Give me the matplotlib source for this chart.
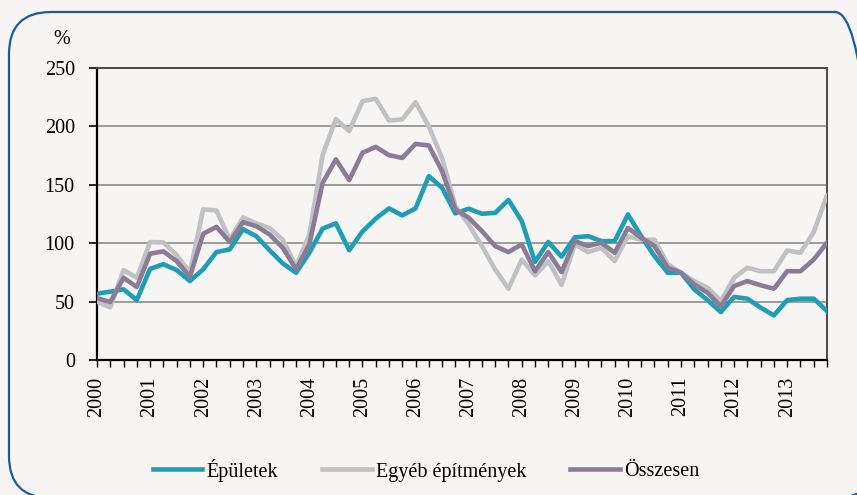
import numpy as np
import matplotlib
matplotlib.use("Agg")
import matplotlib.pyplot as plt
from matplotlib.patches import FancyBboxPatch

years = list(range(2000, 2014))

epuletek = [56.8, 58.5, 60.5, 51.3, 78, 82, 77, 67.6, 77.6, 92.4, 94.7, 112,
            106, 94, 82.7, 74.7, 91.8, 112.5, 117, 94, 110, 121, 129.8, 123.8,
            129.8, 157.4, 147.4, 125.5, 129.5, 125.2, 126, 137, 119, 84, 101, 88.5,
            105, 106, 101.8, 101.8, 124.6, 106, 89, 74.7, 74.7, 60.5, 51.3, 41,
            54, 52.5, 44.8, 38.2, 51.3, 52.5, 52.5, 42]

egyeb = [50, 45, 77, 70.4, 101, 100.7, 90, 75, 129, 128, 103, 122,
         117, 113, 103, 80, 107.5, 175.5, 206.3, 196, 221.6, 223.6, 205, 206,
         220.7, 200, 173, 131.8, 116, 97.5, 77.6, 61, 86, 72.4, 84.7, 64.3,
         99, 92.4, 96, 84.7, 106, 103, 103, 81.9, 74.7, 67.6, 61.9, 50.5,
         70.4, 79, 76, 76, 93.8, 91.8, 109.5, 141]

osszesen = [53, 49.6, 70.4, 62.5, 91, 93, 84.7, 71.3, 108, 114, 101, 118,
            114.6, 107.5, 96, 77.6, 99, 151.7, 171.7, 154, 177.4, 182.5, 175.4, 173,
            185, 183.7, 161.7, 129, 121.8, 110.4, 97.5, 92.4, 99, 76, 92.4, 75.3,
            101.8, 97.5, 100.4, 91.8, 113, 104.7, 97.5, 79, 74.7, 64.7, 57.6, 46,
            63.3, 67.6, 64, 61, 76, 76, 86, 100.4]

plt.rcParams["font.family"] = ["Liberation Serif", "DejaVu Serif"]

bg = "#f6f5f3"
fig = plt.figure(figsize=(8.57, 4.95), dpi=100, facecolor=bg)

# rounded frame, partly running off the right and bottom edges
frame = FancyBboxPatch((0.09, -0.03), 8.68, 4.86,
                       boxstyle="round,pad=0,rounding_size=0.42",
                       transform=fig.dpi_scale_trans,
                       facecolor="none", edgecolor="#1b5c9e", linewidth=1.6)
fig.patches.append(frame)

ax = fig.add_axes([97 / 857, 1 - 360 / 495, 730 / 857, 292 / 495])
ax.set_facecolor(bg)

x = np.arange(len(epuletek))

ax.plot(x, epuletek, color="#1e9db4", lw=3.3, label="Épületek", zorder=3)
ax.plot(x, egyeb, color="#bfc1c3", lw=3.3, label="Egyéb építmények", zorder=3)
ax.plot(x, osszesen, color="#8a7c95", lw=3.3, label="Összesen", zorder=3)

ax.set_xlim(0, len(x) - 1)
ax.set_ylim(0, 250)
ax.set_yticks(range(0, 251, 50))
ax.yaxis.grid(True, color="#8c8c8c", lw=1.2)
ax.set_axisbelow(True)

labels = []
for i in x:
    labels.append(str(years[i // 4]) if i % 4 == 0 else "")
ax.set_xticks(x)
ax.set_xticklabels(labels, rotation=90)

ax.tick_params(axis="y", direction="out", length=6, width=1.2,
               labelsize=14.5, pad=10)
ax.tick_params(axis="x", direction="out", length=5, width=1.0,
               labelsize=14.5, pad=7)

ax.spines["left"].set_color("black")
ax.spines["left"].set_linewidth(1.6)
ax.spines["bottom"].set_color("black")
ax.spines["bottom"].set_linewidth(1.6)
ax.spines["top"].set_color("#4a4a4a")
ax.spines["top"].set_linewidth(1.4)
ax.spines["right"].set_color("#4a4a4a")
ax.spines["right"].set_linewidth(1.4)

fig.text(62 / 857, 1 - 40 / 495, "%", fontsize=14.5, ha="center", va="center")

fig.legend(loc="center", bbox_to_anchor=(426 / 857, 1 - 470 / 495),
           ncol=3, frameon=False, fontsize=14.5, handlelength=2.45,
           handletextpad=0.2, columnspacing=2.2)

fig.savefig("out.png", dpi=100, facecolor=bg)
